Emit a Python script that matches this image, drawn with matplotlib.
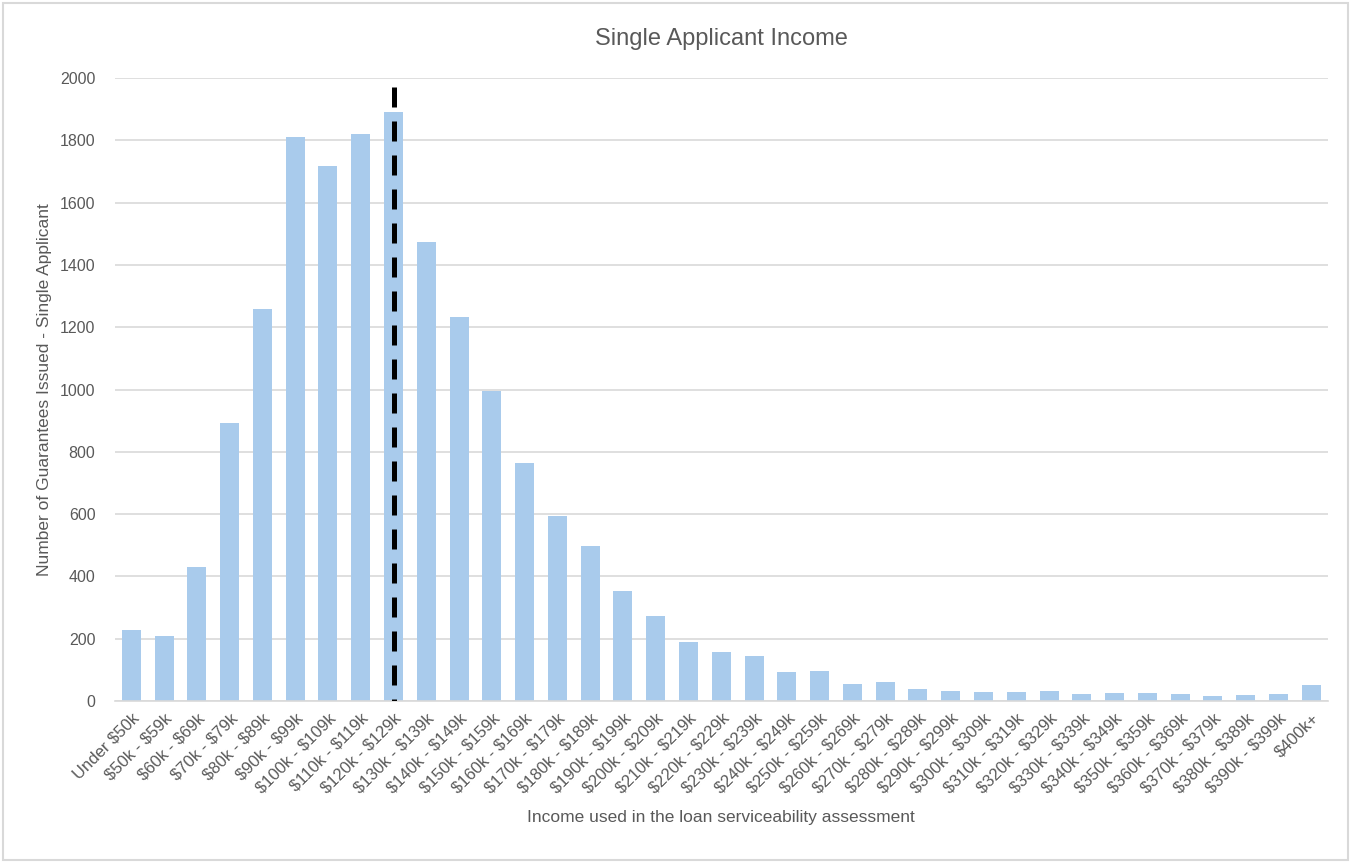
import matplotlib
matplotlib.use("Agg")
import matplotlib.pyplot as plt
from matplotlib.patches import Rectangle
import numpy as np

# income bands (x categories)
bands = ["Under $50k"] + ["$%dk - $%dk" % (lo, lo + 9) for lo in range(50, 400, 10)] + ["$400k+"]

# number of guarantees issued per band
guarantees = [228, 209, 430, 892, 1258, 1811, 1717, 1820, 1891, 1473,
              1233, 995, 764, 594, 498, 353, 273, 189, 157, 144,
              93, 96, 55, 61, 39, 32, 29, 29, 32, 22,
              26, 26, 22, 16, 19, 22, 51]

# dashed marker line (median band) and its top
median_band = "$120k - $129k"
median_top = 1970

yticks = [0, 200, 400, 600, 800, 1000, 1200, 1400, 1600, 1800, 2000]

bar_color = "#A9CBEC"
grid_color = "#D9D9D9"
text_color = "#595959"

plt.rcParams['font.family'] = ['Liberation Sans', 'DejaVu Sans']

fig = plt.figure(figsize=(13.52, 8.63), dpi=100)
ax = fig.add_axes([0.085, 0.1877, 0.897, 0.7219])

x = np.arange(len(bands))
ax.bar(x, guarantees, width=0.58, color=bar_color, zorder=2)

# draw the dashed line from the top down so it starts with a full dash
mi = bands.index(median_band)
ax.plot([mi, mi], [median_top, 0], color="black", linestyle=(0, (4, 2.8)), linewidth=3.6, zorder=3)

ax.set_xlim(-0.5, len(bands) - 0.5)
ax.set_ylim(0, 2000)
ax.set_yticks(yticks)
ax.set_yticklabels([str(v) for v in yticks], fontsize=11.5, color=text_color)
ax.set_xticks(x)
# escape the dollar signs so they are not read as mathtext
ax.set_xticklabels([b.replace("$", r"\$") for b in bands], rotation=45, ha="right",
                   rotation_mode="anchor", fontsize=12, color=text_color)
ax.tick_params(axis='both', length=0)
ax.tick_params(axis='y', pad=14)
ax.tick_params(axis='x', pad=7)

ax.grid(axis='y', color=grid_color, linewidth=1.2, zorder=0)
ax.set_axisbelow(True)
for side in ['top', 'right', 'left']:
    ax.spines[side].set_visible(False)
ax.spines['bottom'].set_color(grid_color)
ax.spines['bottom'].set_linewidth(1.2)

ax.set_title("Single Applicant Income", fontsize=17, color=text_color, pad=24)
ax.set_ylabel("Number of Guarantees Issued - Single Applicant", fontsize=12.5, color=text_color, labelpad=6)
ax.set_xlabel("Income used in the loan serviceability assessment", fontsize=12.5, color=text_color, labelpad=10)

# chart border
fig.patches.append(Rectangle((0.002, 0.003), 0.995, 0.994, transform=fig.transFigure,
                             fill=False, edgecolor=grid_color, linewidth=1.5))

fig.savefig("out.png", dpi=100)
